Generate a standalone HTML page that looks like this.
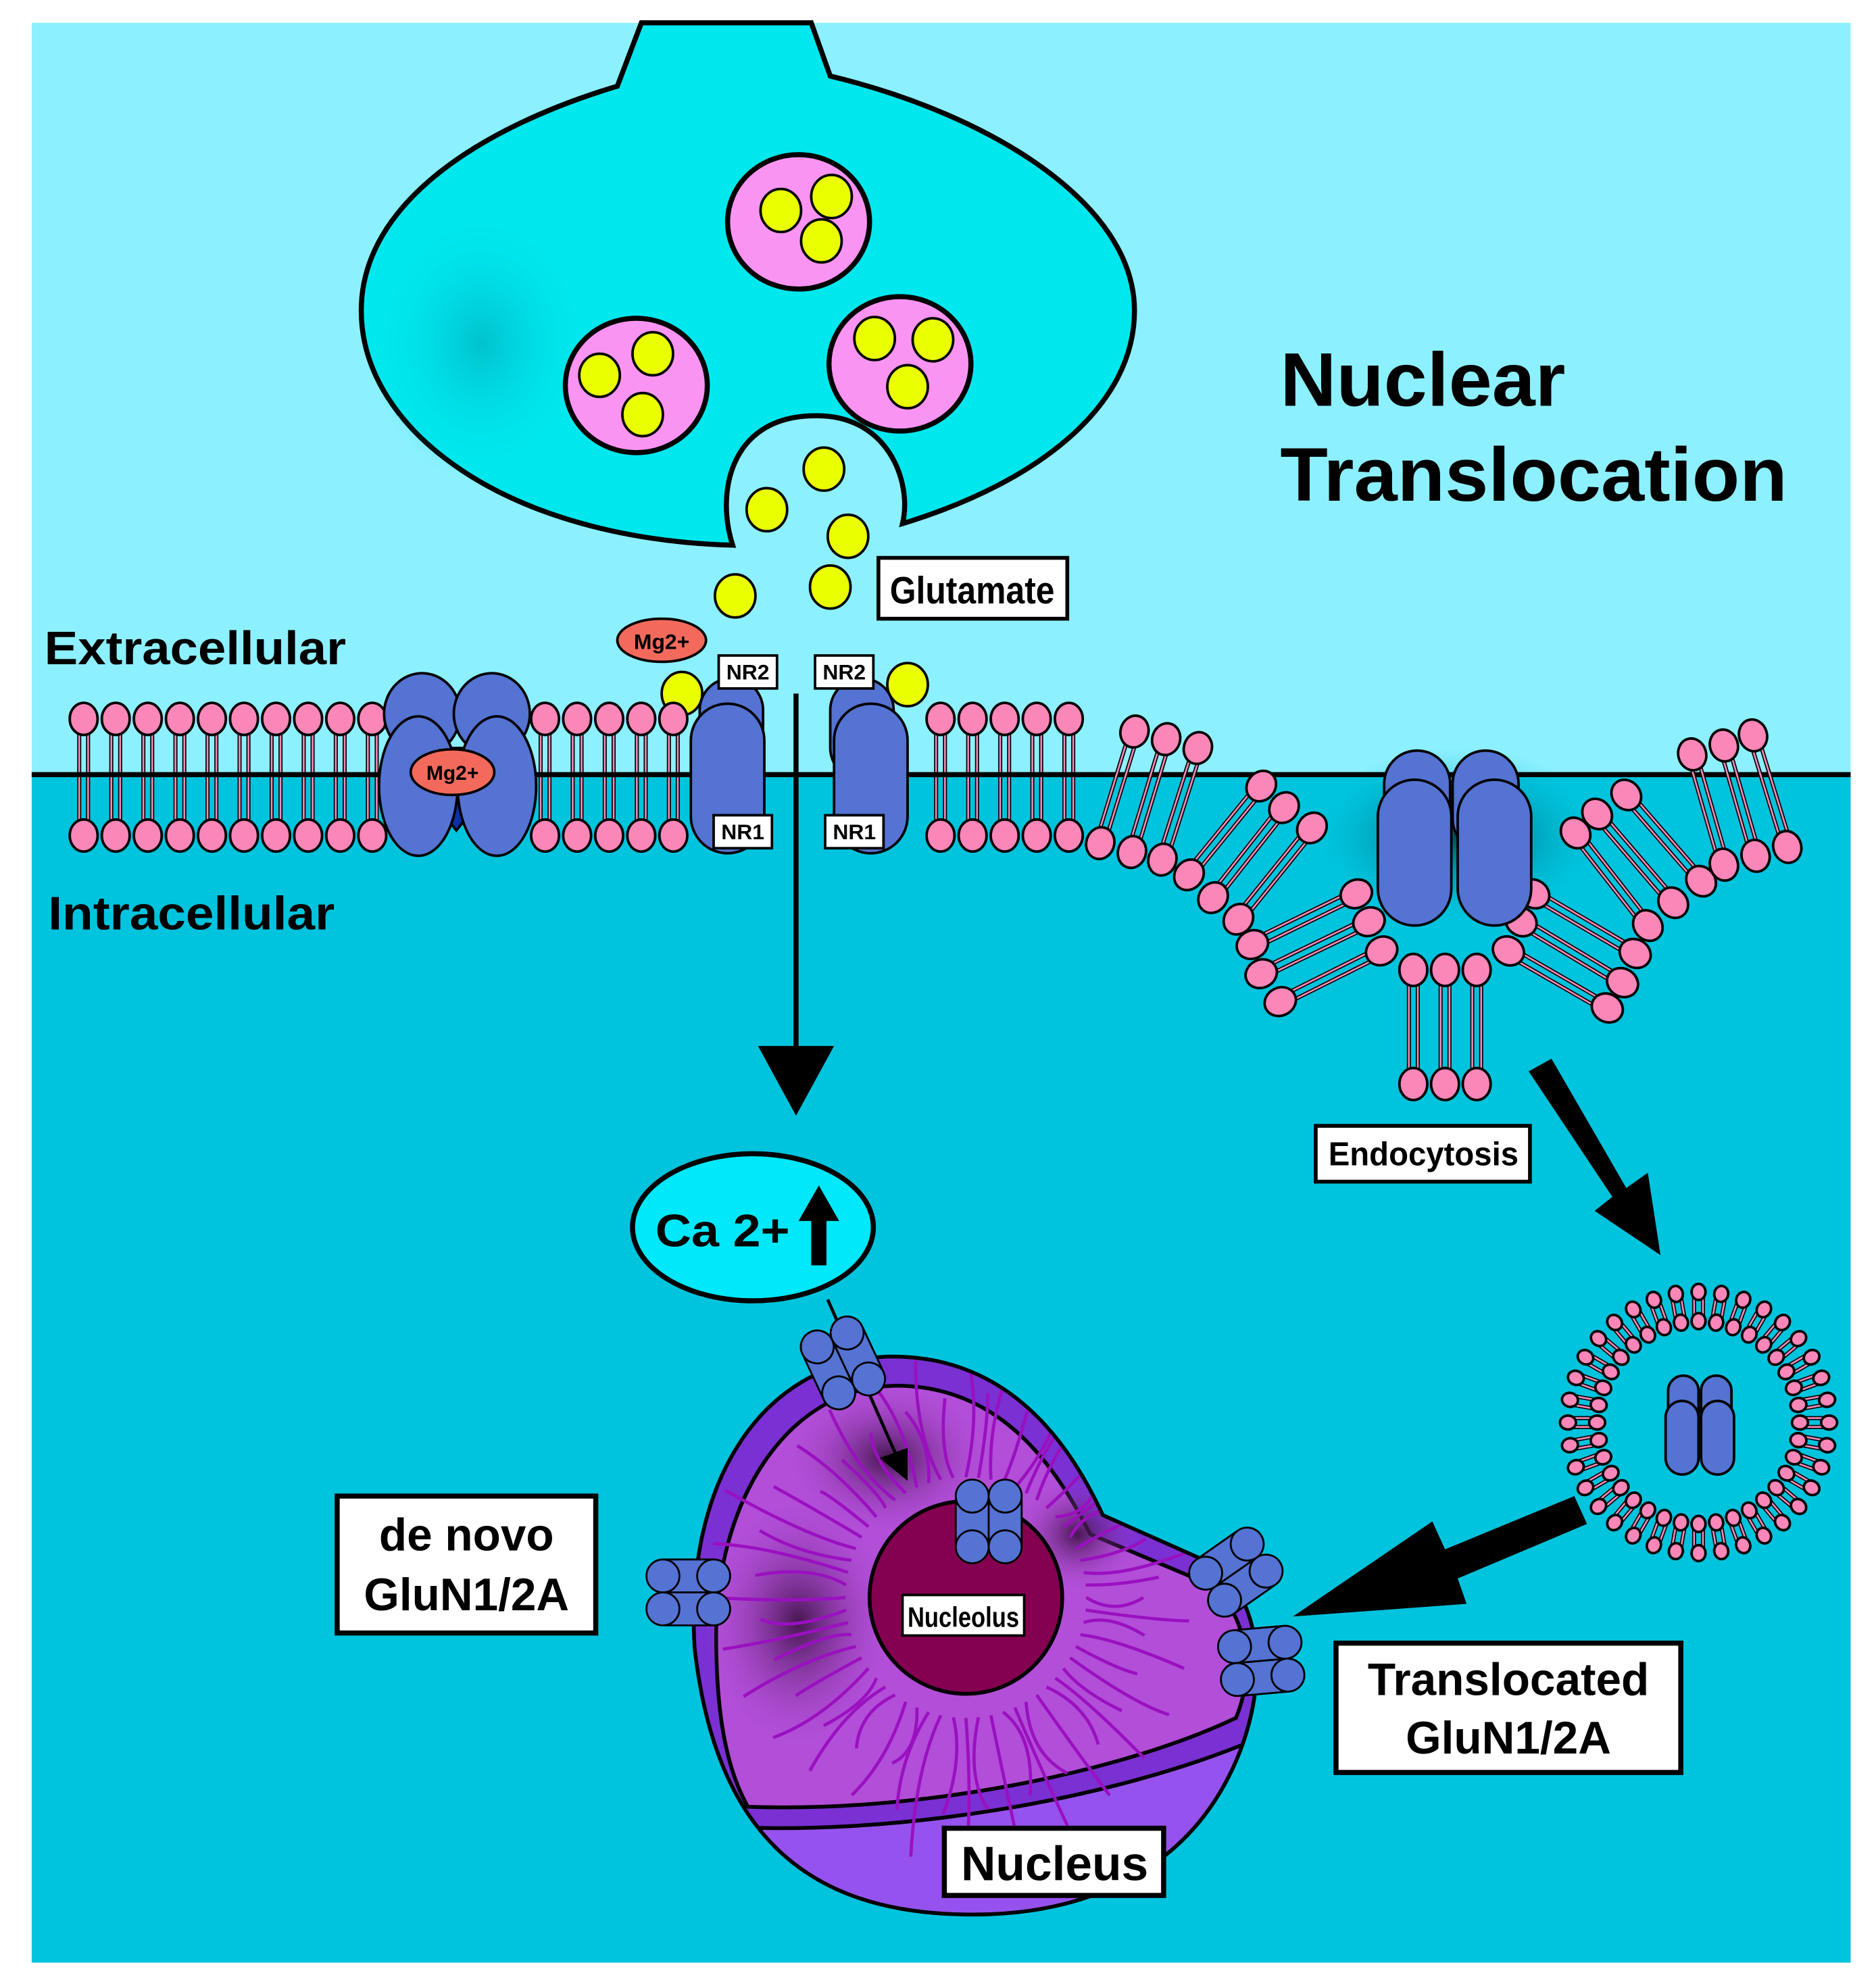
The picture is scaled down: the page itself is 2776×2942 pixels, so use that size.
<!DOCTYPE html>
<html><head><meta charset="utf-8"><style>
html,body{margin:0;padding:0;background:#fff}
svg{display:block}
text{font-family:"Liberation Sans",Arial,sans-serif;font-weight:bold}
</style></head><body>
<svg id="s" width="2776" height="2942" viewBox="0 0 1480 1568" preserveAspectRatio="none" xmlns="http://www.w3.org/2000/svg">
<defs>
<radialGradient id="sh"><stop offset="0" stop-color="#003840" stop-opacity="0.85"/><stop offset="1" stop-color="#00c4de" stop-opacity="0"/></radialGradient>
<radialGradient id="dk"><stop offset="0" stop-color="#3a1040" stop-opacity="0.9"/><stop offset="1" stop-color="#b24ed8" stop-opacity="0"/></radialGradient>
<radialGradient id="tsh"><stop offset="0" stop-color="#00a8b8" stop-opacity="0.6"/><stop offset="1" stop-color="#00e5f0" stop-opacity="0"/></radialGradient>
<clipPath id="nc"><path d="M548,1300 C540,1170 600,1075 700,1070 C790,1068 840,1130 870,1195 L960,1235 C1000,1270 1000,1340 970,1400 C930,1480 850,1512 760,1510 C640,1508 565,1450 548,1300 Z"/></clipPath>
</defs>
<rect x="0" y="0" width="1480" height="1568" fill="#fff"/>
<rect x="25" y="18" width="1435" height="593" fill="#8df0fe"/>
<rect x="25" y="611" width="1435" height="937" fill="#00c4de"/>
<ellipse cx="1150" cy="660" rx="120" ry="70" fill="url(#sh)"/>

<path d="M506,18 L487,68 C380,100 285,160 285,245 C285,340 400,425 578,430 C565,390 575,330 640,328 C700,325 720,380 712,413 C820,380 895,320 895,245 C895,160 780,90 655,60 L640,18 Z" fill="#00e8ee" stroke="#000" stroke-width="4"/>
<ellipse cx="380" cy="270" rx="90" ry="110" fill="url(#tsh)"/>
<g stroke="#000" stroke-width="4" fill="#fa94f2">
<ellipse cx="630" cy="175" rx="56" ry="53"/><ellipse cx="502" cy="304" rx="56" ry="53"/><ellipse cx="710" cy="287" rx="56" ry="53"/>
</g>
<g stroke="#000" stroke-width="2" fill="#eaff00">
<ellipse cx="616" cy="166" rx="16" ry="17"/><ellipse cx="656" cy="155" rx="16" ry="17"/><ellipse cx="648" cy="190" rx="16" ry="17"/>
<ellipse cx="473" cy="296" rx="16" ry="17"/><ellipse cx="515" cy="279" rx="16" ry="17"/><ellipse cx="507" cy="327" rx="16" ry="17"/>
<ellipse cx="690" cy="267" rx="16" ry="17"/><ellipse cx="736" cy="268" rx="16" ry="17"/><ellipse cx="716" cy="305" rx="16" ry="17"/>
<ellipse cx="650" cy="370" rx="16" ry="17"/><ellipse cx="605" cy="402" rx="16" ry="17"/><ellipse cx="669" cy="423" rx="16" ry="17"/>
<ellipse cx="580" cy="470" rx="16" ry="17"/><ellipse cx="655" cy="463" rx="16" ry="17"/>
<ellipse cx="538" cy="547" rx="16" ry="17"/><ellipse cx="716" cy="540" rx="16" ry="17"/>
</g>
<rect x="693" y="440" width="149" height="48" fill="#fff" stroke="#000" stroke-width="3"/>
<text x="702" y="476" font-size="30" textLength="130" lengthAdjust="spacingAndGlyphs">Glutamate</text>
<ellipse cx="522" cy="505" rx="35" ry="17" fill="#f36a5c" stroke="#000" stroke-width="2"/>
<text x="522" y="512" font-size="17" text-anchor="middle">Mg2+</text>

<text x="35" y="524" font-size="37" textLength="238" lengthAdjust="spacingAndGlyphs">Extracellular</text>
<text x="38" y="733" font-size="37" textLength="226" lengthAdjust="spacingAndGlyphs">Intracellular</text>
<text x="1010" y="320" font-size="60" textLength="225" lengthAdjust="spacingAndGlyphs">Nuclear</text>
<text x="1010" y="395" font-size="60" textLength="400" lengthAdjust="spacingAndGlyphs">Translocation</text>

<g id="lip"></g>
<line x1="25" y1="611" x2="1460" y2="611" stroke="#000" stroke-width="4"/>
<g id="lip2"></g>

<g stroke="#000" stroke-width="2" fill="#5473d2">
<ellipse cx="333" cy="563" rx="30" ry="32"/><ellipse cx="388" cy="563" rx="30" ry="32"/>
<path d="M350,590 L370,590 L372,640 L360,655 L348,640 Z" fill="#0a2fa6"/>
<ellipse cx="330" cy="620" rx="31" ry="55"/><ellipse cx="392" cy="620" rx="31" ry="55"/>
</g>
<ellipse cx="357" cy="609" rx="33" ry="18" fill="#f36a5c" stroke="#000" stroke-width="2"/>
<text x="357" y="615" font-size="16" text-anchor="middle">Mg2+</text>
<g stroke="#000" stroke-width="2" fill="#5473d2">
<rect x="552" y="535" width="50" height="80" rx="25"/>
<rect x="545" y="555" width="58" height="118" rx="29"/>
<rect x="655" y="535" width="50" height="80" rx="25"/>
<rect x="658" y="555" width="58" height="118" rx="29"/>
</g>
<g stroke="#000" stroke-width="2" fill="#fff">
<rect x="567" y="517" width="46" height="26"/><rect x="643" y="517" width="46" height="26"/>
<rect x="563" y="643" width="46" height="26"/><rect x="651" y="643" width="46" height="26"/>
</g>
<g font-size="17" text-anchor="middle"><text x="590" y="536">NR2</text><text x="666" y="536">NR2</text><text x="586" y="662">NR1</text><text x="674" y="662">NR1</text></g>
<line x1="628" y1="547" x2="628" y2="830" stroke="#000" stroke-width="4"/>
<polygon points="598,825 658,825 628,880" fill="#000"/>

<g stroke="#000" stroke-width="2" fill="#5473d2">
<rect x="1092" y="592" width="52" height="80" rx="26"/><rect x="1146" y="592" width="52" height="80" rx="26"/>
<rect x="1087" y="615" width="58" height="115" rx="29"/><rect x="1150" y="615" width="58" height="115" rx="29"/>
</g>
<rect x="1038" y="888" width="169" height="44" fill="#fff" stroke="#000" stroke-width="3"/>
<text x="1048" y="919" font-size="26" textLength="150" lengthAdjust="spacingAndGlyphs">Endocytosis</text>
<polygon points="1206,845 1224,835 1283,937 1300,925 1310,990 1258,955 1272,944" fill="#000"/>

<g id="ves"></g>
<g stroke="#000" stroke-width="2" fill="#5473d2">
<rect x="1316" y="1085" width="24" height="50" rx="12"/><rect x="1342" y="1085" width="24" height="50" rx="12"/>
<rect x="1314" y="1105" width="26" height="58" rx="13"/><rect x="1342" y="1105" width="26" height="58" rx="13"/>
</g>
<polygon points="1242,1180 1252,1202 1150,1245 1157,1265 1020,1275 1130,1200 1140,1222" fill="#000"/>

<ellipse cx="594" cy="968" rx="95" ry="58" fill="#00e8fa" stroke="#000" stroke-width="4"/>
<text x="517" y="983" font-size="36" textLength="106" lengthAdjust="spacingAndGlyphs">Ca 2+</text>
<polygon points="646,935 630,963 640,963 640,998 652,998 652,963 662,963" fill="#000"/>

<path d="M548,1300 C540,1170 600,1075 700,1070 C790,1068 840,1130 870,1195 L960,1235 C1000,1270 1000,1340 970,1400 C930,1480 850,1512 760,1510 C640,1508 565,1450 548,1300 Z" fill="#7a30d2"/>
<g clip-path="url(#nc)">
<path d="M560,1440 C700,1450 880,1420 995,1370 L1010,1530 L540,1530 Z" fill="#9652ee" stroke="#000" stroke-width="3"/>
<path d="M565,1290 C565,1185 620,1095 705,1093 C785,1092 830,1150 860,1210 L955,1250 C985,1275 990,1320 975,1355 C880,1400 720,1430 590,1425 C570,1390 565,1340 565,1290 Z" fill="#b24ed8" stroke="#000" stroke-width="3"/>
<ellipse cx="630" cy="1280" rx="75" ry="100" fill="url(#dk)"/>
<ellipse cx="700" cy="1150" rx="80" ry="60" fill="url(#dk)"/>
<ellipse cx="850" cy="1210" rx="50" ry="45" fill="url(#dk)"/>
<g id="fib" stroke="#9a10c0" stroke-width="2.5" fill="none"></g>
</g>
<path d="M548,1300 C540,1170 600,1075 700,1070 C790,1068 840,1130 870,1195 L960,1235 C1000,1270 1000,1340 970,1400 C930,1480 850,1512 760,1510 C640,1508 565,1450 548,1300 Z" fill="none" stroke="#000" stroke-width="3"/>
<circle cx="762" cy="1260" r="76" fill="#840050" stroke="#000" stroke-width="3"/>
<rect x="712" y="1258" width="96" height="32" fill="#fff" stroke="#000" stroke-width="2"/>
<text x="716" y="1283" font-size="22" textLength="88" lengthAdjust="spacingAndGlyphs">Nucleolus</text>
<line x1="653" y1="1025" x2="708" y2="1150" stroke="#000" stroke-width="2.5"/>
<polygon points="694,1150 716,1142 716,1168" fill="#000"/>
<g id="rec"></g>

<rect x="266" y="1180" width="204" height="108" fill="#fff" stroke="#000" stroke-width="4"/>
<text x="368" y="1223" font-size="36" text-anchor="middle">de novo</text>
<text x="368" y="1270" font-size="36" text-anchor="middle">GluN1/2A</text>
<rect x="1054" y="1296" width="272" height="102" fill="#fff" stroke="#000" stroke-width="4"/>
<text x="1190" y="1337" font-size="36" text-anchor="middle">Translocated</text>
<text x="1190" y="1383" font-size="36" text-anchor="middle">GluN1/2A</text>
<rect x="745" y="1442" width="173" height="53" fill="#fff" stroke="#000" stroke-width="4"/>
<text x="832" y="1483" font-size="38" text-anchor="middle">Nucleus</text>
</svg>
<script>
var NS="http://www.w3.org/2000/svg";
function el(p,t,a){var e=document.createElementNS(NS,t);for(var k in a)e.setAttribute(k,a[k]);p.appendChild(e);return e;}
function pair(g,x1,y1,x2,y2,r){r=r||11;var dx=x2-x1,dy=y2-y1,L=Math.hypot(dx,dy),nx=-dy/L*3.5,ny=dx/L*3.5;
 [-1,1].forEach(function(s){el(g,"line",{x1:x1+nx*s,y1:y1+ny*s,x2:x2+nx*s,y2:y2+ny*s,stroke:"#000","stroke-width":3.2});
 el(g,"line",{x1:x1+nx*s,y1:y1+ny*s,x2:x2+nx*s,y2:y2+ny*s,stroke:"#f58ab8","stroke-width":1.4});});
 var a=Math.atan2(dy,dx)*180/Math.PI-90;
 [[x1,y1],[x2,y2]].forEach(function(p){el(g,"ellipse",{cx:p[0],cy:p[1],rx:r,ry:r*1.15,fill:"#fb86b8",stroke:"#000","stroke-width":2,transform:"rotate("+a+" "+p[0]+" "+p[1]+")"});});}
var g=document.getElementById("lip");
var xs=[];for(var x=66;x<=295;x+=25.3)xs.push(x);
for(x=430;x<=535;x+=25.3)xs.push(x);for(x=742;x<=845;x+=25.3)xs.push(x);
xs.forEach(function(x){pair(g,x,567,x,659);});
var g2=document.getElementById("lip2");
[[895,577,868,665],[920,583,893,672],[945,590,917,678],[995,620,938,690],[1013,637,957,708],[1035,653,977,725],
[1070,705,988,745],[1080,727,995,768],[1090,750,1010,790],[1115,765,1115,855],[1140,765,1140,855],[1165,765,1165,855],
[1190,750,1268,795],[1200,727,1280,775],[1210,705,1290,752],[1243,657,1300,730],[1260,642,1320,712],[1283,627,1342,695],
[1335,595,1360,682],[1360,588,1385,675],[1383,580,1410,668]].forEach(function(p){pair(g2,p[0],p[1],p[2],p[3]);});
var gv=document.getElementById("ves");var cx=1340,cy=1122;
for(var i=0;i<36;i++){var t=i/36*2*Math.PI;pair(gv,cx+103*Math.cos(t),cy+103*Math.sin(t),cx+80*Math.cos(t),cy+80*Math.sin(t),5.5);}
var gr=document.getElementById("rec");
function dumb(x,y,ang){var gg=el(gr,"g",{transform:"translate("+x+" "+y+") rotate("+ang+")"});
 [-13,13].forEach(function(o){el(gg,"rect",{x:o-13,y:-30,width:26,height:60,rx:13,fill:"#5473d2",stroke:"#000","stroke-width":1.5});
 el(gg,"circle",{cx:o,cy:-20,r:13,fill:"#5473d2",stroke:"#000","stroke-width":1.5});el(gg,"circle",{cx:o,cy:20,r:13,fill:"#5473d2",stroke:"#000","stroke-width":1.5});});}
dumb(665,1075,-25);dumb(543,1256,90);dumb(780,1200,0);dumb(975,1240,55);dumb(995,1310,85);
var gf=document.getElementById("fib");
for(var k=0;k<60;k++){var a=k/60*2*Math.PI,r1=95,r2=140+((k*37)%70);var x1=762+r1*Math.cos(a),y1=1260+r1*Math.sin(a),x2=762+r2*Math.cos(a),y2=1260+r2*Math.sin(a);
 var mx=(x1+x2)/2+14*Math.sin(k*1.7),my=(y1+y2)/2+14*Math.cos(k*1.3);
 el(gf,"path",{d:"M"+x1+","+y1+" Q"+mx+","+my+" "+x2+","+y2});}
</script>
</body></html>
